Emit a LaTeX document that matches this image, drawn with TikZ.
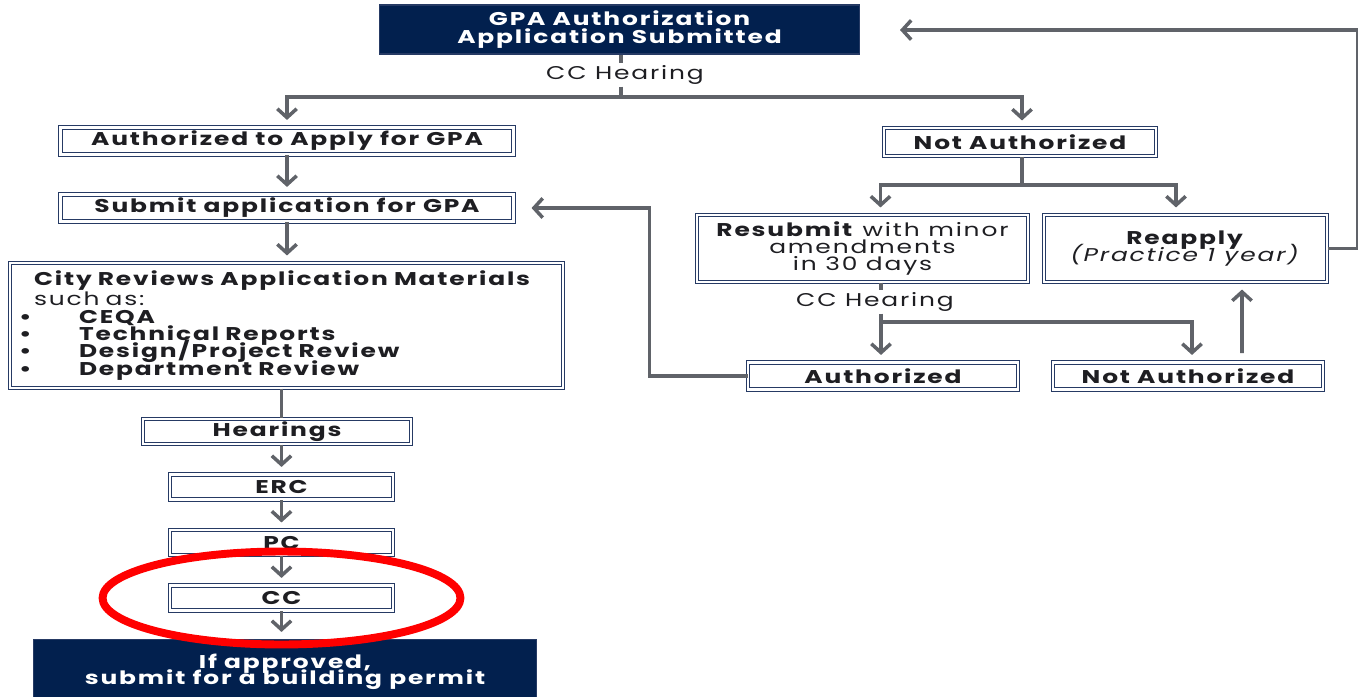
\documentclass[tikz,border=0pt]{standalone}
\usepackage{fontspec}
\setmainfont{Poppins}[FakeStretch=1.35, LetterSpace=10]
\usetikzlibrary{arrows.meta}
\definecolor{navy}{RGB}{2,32,78}
\definecolor{edge}{RGB}{38,58,100}
\definecolor{linegray}{RGB}{96,99,105}
\definecolor{ink}{RGB}{30,30,34}
\newcommand{\tightskip}{\setlength{\lineskiplimit}{-10pt}}

\begin{document}
\begin{tikzpicture}[x=0.02cm, y=-0.02cm,
    box/.style={draw=edge, double=white, double distance=1.3pt, line width=0.6pt, fill=white,
        text=ink, font=\bfseries\fontsize{10.5}{12}\selectfont, inner sep=0pt, minimum height=0.54cm},
    darkbox/.style={fill=navy, draw=edge, line width=0.6pt, text=white, align=center,
        font=\bfseries\fontsize{10.5}{10}\selectfont\tightskip, inner sep=0pt},
    label/.style={fill=white, text=ink, font=\fontsize{10.5}{12}\selectfont, inner sep=1pt},
    conn/.style={draw=linegray, line width=2.2pt},
    arr/.style={conn, -{Straight Barb[length=5pt, width=11pt, line width=2pt]}, shorten >=4pt}]
    \useasboundingbox (0,0) rectangle (1358,696);

    % main column
    \node[darkbox, minimum width=9.62cm, minimum height=0.98cm] (submitted) at (619.5,29.5) {GPA Authorization\\Application Submitted};
    \node[label] (hear1) at (625,75) {CC Hearing};
    \coordinate (split1) at (621,97);
    \node[box, minimum width=9.06cm] (authapply) at (287,141) {Authorized to Apply for GPA};
    \node[box, minimum width=9.06cm] (submitgpa) at (287,208) {Submit application for GPA};
    \node[box, minimum width=11.06cm, minimum height=2.5cm, text width=10.7cm, align=left,
        font=\bfseries\fontsize{10.5}{9.9}\selectfont\tightskip] (review) at (286.5,325.5)
        {\hspace*{0.3cm}City Reviews Application Materials\\[1.5pt]
         \hspace*{0.3cm}{\mdseries such as:}\\
         \makebox[1.2cm][l]{•}CEQA\\
         \makebox[1.2cm][l]{•}Technical Reports\\
         \makebox[1.2cm][l]{•}Design/Project Review\\
         \makebox[1.2cm][l]{•}Department Review};
    \node[box, minimum width=5.36cm, minimum height=0.5cm] (hearings) at (277,431.5) {Hearings};
    \node[box, minimum width=4.46cm, minimum height=0.5cm] (erc) at (281.5,487) {ERC};
    \node[box, minimum width=4.46cm, minimum height=0.5cm] (pc) at (281.5,542.5) {PC};
    \node[box, minimum width=4.46cm, minimum height=0.5cm] (cc) at (281.5,598) {CC};
    \node[darkbox, minimum width=10.08cm, minimum height=1.3cm, font=\bfseries\fontsize{10.5}{9.3}\selectfont\tightskip] (permit) at (285,672) {If approved,\\submit for a building permit};

    % right branch
    \node[box, minimum width=5.44cm, minimum height=0.56cm] (notauth) at (1020,142) {Not Authorized};
    \coordinate (split2) at (1022,185);
    \node[box, minimum width=6.62cm, minimum height=1.34cm, align=center,
        font=\fontsize{10.5}{9.6}\selectfont\tightskip] (resubmit) at (862.5,248.5)
        {\textbf{Resubmit} with minor\\amendments\\in 30 days};
    \node[box, minimum width=5.66cm, minimum height=1.34cm, align=center,
        font=\fontsize{10.5}{9.8}\selectfont\tightskip] (reapply) at (1185.5,248.5)
        {\textbf{Reapply}\\\textit{(Practice 1 year)}};
    \node[label] (hear2) at (875,302) {CC Hearing};
    \coordinate (split3) at (881,322);
    \node[box, minimum width=5.4cm] (authorized) at (883,376) {Authorized};
    \node[box, minimum width=5.4cm] (notauth2) at (1188,376) {Not Authorized};
    \coordinate (loopend) at (900,30);

    % connectors
    \draw[conn] (submitted.south -| split1) -- (hear1.north -| split1);
    \draw[arr] (hear1.south -| split1) -- (split1) -| (authapply.north);
    \draw[arr] (split1) -| ([xshift=0.04cm]notauth.north);
    \draw[arr] (authapply) -- (submitgpa);
    \draw[arr] (submitgpa) -- (submitgpa |- review.north);
    \draw[conn] (review.south -| erc) -- (hearings.north -| erc);
    \draw[arr] (hearings.south -| erc) -- (erc);
    \draw[arr] (erc) -- (pc);
    \draw[arr] (pc) -- (cc);
    \draw[arr] (cc) -- (permit.north -| cc);
    \draw[arr] (notauth.south -| split2) -- (split2) -| ([xshift=0.36cm]resubmit.north);
    \draw[arr] (split2) -| ([xshift=-0.19cm]reapply.north);
    \draw[conn] (resubmit.south -| split3) -- (hear2.north -| split3);
    \draw[arr] (hear2.south -| split3) -- (split3) -- (split3 |- authorized.north);
    \draw[arr] (split3) -| ([xshift=0.08cm]notauth2.north);
    \draw[arr, shorten <=5pt] ([xshift=1.08cm]notauth2.north) -- ([xshift=1.13cm]reapply.south);
    \draw[arr, shorten >=10pt] (authorized.west) -- ++(-98,0) |- (submitgpa.east);
    \draw[arr, shorten >=0pt] (reapply.east) -- ++(30,0) |- (loopend);

    % highlight
    \draw[red, line width=4.5pt] (cc.center) ellipse [x radius=3.58cm, y radius=0.93cm];
\end{tikzpicture}
\end{document}
